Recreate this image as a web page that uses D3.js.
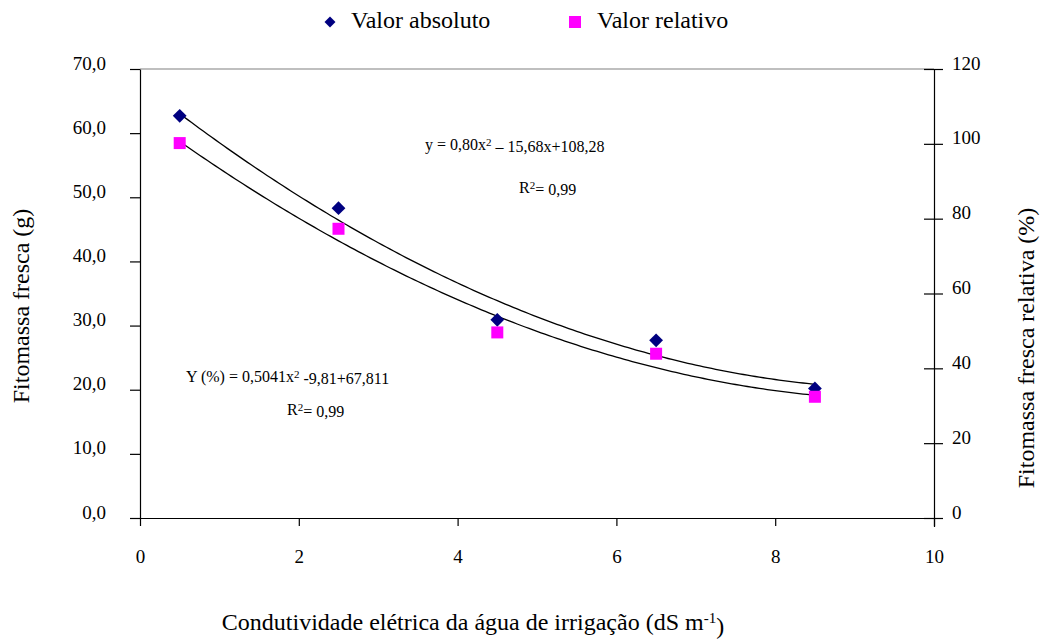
<!DOCTYPE html>
<html>
<head>
<meta charset="utf-8">
<script src="https://cdn.jsdelivr.net/npm/d3@7/dist/d3.min.js"></script>
<style>
  html, body { margin: 0; padding: 0; background: #fff; }
  svg text { font-family: "Liberation Serif", "Times New Roman", serif; fill: #000; }
</style>
</head>
<body>
<svg id="chart" width="1042" height="639"></svg>
<script>
// Electrical conductivity of irrigation water (dS m-1)
const conductivity = [0.5, 2.5, 4.5, 6.5, 8.5];
// Fresh biomass, absolute (g)
const absoluteValues = [62.7, 48.3, 30.9, 27.7, 20.2];
// Fresh biomass, relative (%)
const relativeValues = [100.2, 77.3, 49.6, 43.9, 32.4];

// Fitted quadratic coefficients [a, b, c] for a*x^2 + b*x + c
const absoluteFit = [0.5041, -9.81, 67.811];
const relativeFit = [0.80, -15.68, 108.28];

const xTicks = [0, 2, 4, 6, 8, 10];
const leftTicks = [0, 10, 20, 30, 40, 50, 60, 70];
const rightTicks = [0, 20, 40, 60, 80, 100, 120];

const svg = d3.select("#chart");

const plot = { left: 140, right: 934, top: 69, bottom: 518 };

const x = d3.scaleLinear().domain([0, 10]).range([plot.left, plot.right]);
const yLeft = d3.scaleLinear().domain([0, 70]).range([plot.bottom, plot.top]);
const yRight = d3.scaleLinear().domain([0, 120]).range([plot.bottom, plot.top]);

const commaFmt = d => d3.format(".1f")(d).replace(".", ",");

// Top border of the plot area
svg.append("line")
  .attr("x1", plot.left).attr("x2", plot.right)
  .attr("y1", plot.top).attr("y2", plot.top)
  .attr("stroke", "#808080").attr("stroke-width", 1.2);

// X axis
const xAxis = svg.append("g")
  .attr("transform", `translate(0,${plot.bottom})`)
  .call(d3.axisBottom(x).tickValues(xTicks).tickSize(8).tickPadding(24).tickSizeOuter(0));
xAxis.select(".domain").attr("d", `M${plot.left - 10},0.5H${plot.right}`);

// Left axis
const leftAxis = svg.append("g")
  .attr("transform", `translate(${plot.left},0)`)
  .call(d3.axisLeft(yLeft).tickValues(leftTicks).tickFormat(commaFmt).tickSize(10).tickPadding(24).tickSizeOuter(0));

// Right axis: ticks cross the axis line
const rightAxis = svg.append("g")
  .attr("transform", `translate(${plot.right},0)`)
  .call(d3.axisRight(yRight).tickValues(rightTicks).tickSize(9).tickPadding(9).tickSizeOuter(0));
rightAxis.selectAll(".tick line").attr("x1", -10);
rightAxis.select(".domain").attr("d", `M0.5,${plot.top}V${plot.bottom + 9}`);

svg.selectAll(".tick text")
  .style("font-size", "19px")
  .style("font-family", "'Liberation Serif', 'Times New Roman', serif");
svg.selectAll(".domain, .tick line").attr("stroke", "#000").attr("stroke-width", 1.2);
rightAxis.selectAll(".tick text").attr("dy", "0em");
leftAxis.selectAll(".tick text").attr("dy", "0em");

// Trend curves from the fitted coefficients
const quad = (c, v) => c[0] * v * v + c[1] * v + c[2];
const curveX = d3.range(0.5, 8.5001, 0.05);
const line = d3.line().curve(d3.curveLinear);

svg.append("path")
  .attr("d", line(curveX.map(v => [x(v), yLeft(quad(absoluteFit, v))])))
  .attr("fill", "none").attr("stroke", "#000").attr("stroke-width", 1.3);
svg.append("path")
  .attr("d", line(curveX.map(v => [x(v), yRight(quad(relativeFit, v))])))
  .attr("fill", "none").attr("stroke", "#000").attr("stroke-width", 1.3);

// Markers
const diamond = d3.symbol().type(d3.symbolSquare).size(95);
svg.selectAll(".abs").data(conductivity).join("path")
  .attr("class", "abs")
  .attr("d", diamond)
  .attr("transform", (d, i) => `translate(${x(d)},${yLeft(absoluteValues[i])}) rotate(45)`)
  .attr("fill", "#000080");

svg.selectAll(".rel").data(conductivity).join("rect")
  .attr("class", "rel")
  .attr("x", d => x(d) - 6)
  .attr("y", (d, i) => yRight(relativeValues[i]) - 6)
  .attr("width", 12).attr("height", 12)
  .attr("fill", "#FF00FF");

// Equations
function eq(xPos, yPos, parts) {
  const t = svg.append("text").attr("x", xPos).attr("y", yPos).style("font-size", "16px");
  parts.forEach(p => {
    const s = t.append("tspan").text(p.t);
    if (p.sup) s.attr("dy", "-0.4em").style("font-size", "11px");
    if (p.down) s.attr("dy", "0.4em");
  });
}
eq(425, 150, [{ t: "y = 0,80x" }, { t: "2", sup: true }, { t: " – 15,68x+108,28", down: true }]);
eq(519, 193, [{ t: "R" }, { t: "2", sup: true }, { t: "= 0,99", down: true }]);
eq(186, 382, [{ t: "Y (%) = 0,5041x" }, { t: "2", sup: true }, { t: " -9,81+67,811", down: true }]);
eq(287, 415, [{ t: "R" }, { t: "2", sup: true }, { t: "= 0,99", down: true }]);

// Legend
svg.append("path")
  .attr("d", d3.symbol().type(d3.symbolSquare).size(60))
  .attr("transform", "translate(330,22) rotate(45)")
  .attr("fill", "#000080");
svg.append("text").attr("x", 351).attr("y", 28).style("font-size", "24px").text("Valor absoluto");
svg.append("rect").attr("x", 569).attr("y", 16).attr("width", 12).attr("height", 12).attr("fill", "#FF00FF");
svg.append("text").attr("x", 597).attr("y", 28).style("font-size", "24px").text("Valor relativo");

// Axis titles
svg.append("text")
  .attr("transform", "translate(29,306) rotate(-90)")
  .attr("text-anchor", "middle").style("font-size", "24px")
  .text("Fitomassa fresca (g)");
svg.append("text")
  .attr("transform", "translate(1034,348) rotate(-90)")
  .attr("text-anchor", "middle").style("font-size", "24px")
  .text("Fitomassa fresca relativa (%)");
const xt = svg.append("text")
  .attr("x", 473).attr("y", 630)
  .attr("text-anchor", "middle").style("font-size", "24px");
xt.append("tspan").text("Condutividade elétrica da água de irrigação (dS m");
xt.append("tspan").attr("dy", "-0.45em").style("font-size", "15px").text("-1");
xt.append("tspan").attr("dy", "0.45em").text(")");
</script>
</body>
</html>
